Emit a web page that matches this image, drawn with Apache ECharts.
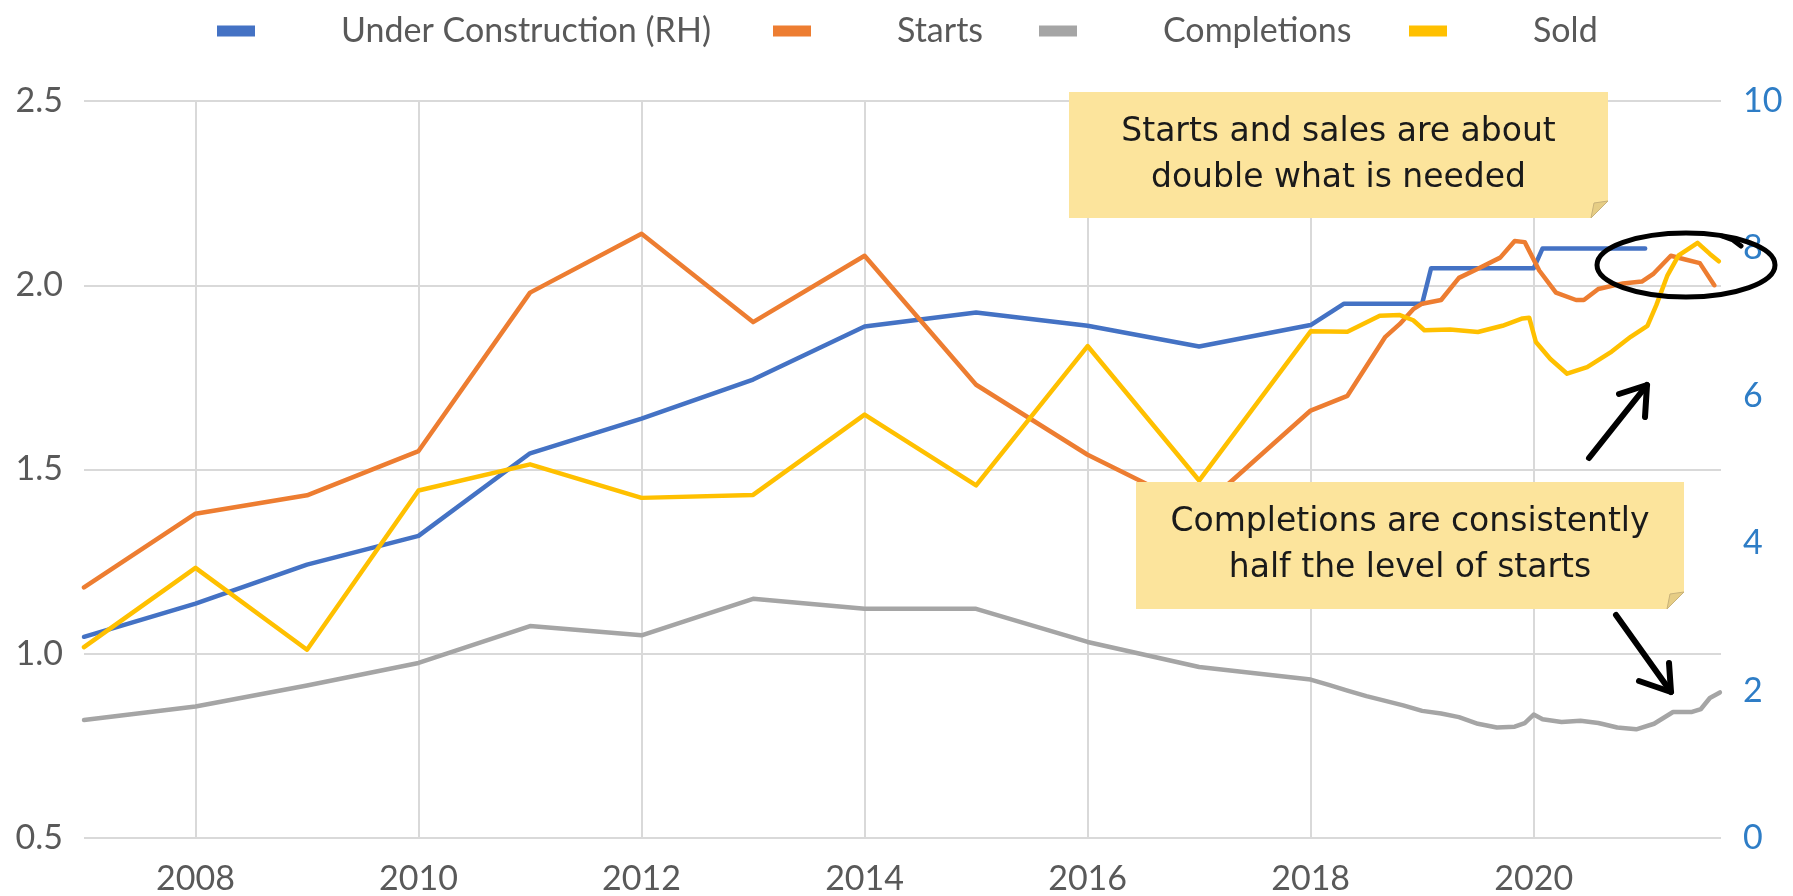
<!DOCTYPE html>
<html>
<head>
<meta charset="utf-8">
<script src="https://cdn.jsdelivr.net/npm/echarts@6/dist/echarts.min.js"></script>
<style>
  html, body { margin: 0; padding: 0; background: #ffffff; }
  #chart { width: 1793px; height: 896px; }
</style>
</head>
<body>
<div id="chart"></div>
<script>
// ---- data (x = decimal year) ----
const yearTicks = [2008, 2010, 2012, 2014, 2016, 2018, 2020];

// millions, right-hand axis
const underConstruction = [
  [2007, 2.73], [2008, 3.18], [2009, 3.71], [2010, 4.10], [2011, 5.22],
  [2012, 5.69], [2013, 6.22], [2014, 6.94], [2015, 7.13], [2016, 6.95],
  [2017, 6.67], [2018, 6.96], [2018.3, 7.25], [2019.0, 7.25], [2019.08, 7.73],
  [2020.0, 7.73], [2020.08, 8.0], [2021.0, 8.0]
];

const starts = [
  [2007, 1.18], [2008, 1.38], [2009, 1.43], [2010, 1.55], [2011, 1.98],
  [2012, 2.14], [2013, 1.90], [2014, 2.08], [2015, 1.73], [2016, 1.54],
  [2017, 1.39], [2018, 1.66], [2018.33, 1.70], [2018.5, 1.78], [2018.67, 1.86],
  [2018.8, 1.895], [2018.92, 1.935], [2019.0, 1.95], [2019.17, 1.96], [2019.33, 2.02],
  [2019.5, 2.045], [2019.7, 2.075], [2019.83, 2.12], [2019.92, 2.117], [2020.05, 2.04],
  [2020.2, 1.98], [2020.38, 1.96], [2020.45, 1.96], [2020.58, 1.99], [2020.8, 2.005],
  [2020.97, 2.01], [2021.07, 2.03], [2021.23, 2.08], [2021.36, 2.07], [2021.49, 2.06],
  [2021.62, 2.0]
];

const completions = [
  [2007, 0.82], [2008, 0.857], [2009, 0.914], [2010, 0.975], [2011, 1.075],
  [2012, 1.05], [2013, 1.149], [2014, 1.122], [2015, 1.122], [2016, 1.032],
  [2017, 0.964], [2018, 0.93], [2018.17, 0.915], [2018.33, 0.90], [2018.5, 0.885],
  [2018.67, 0.872], [2018.83, 0.86], [2019.0, 0.845], [2019.17, 0.838], [2019.33, 0.828],
  [2019.5, 0.81], [2019.67, 0.80], [2019.83, 0.802], [2019.92, 0.812], [2020.0, 0.835],
  [2020.08, 0.822], [2020.25, 0.815], [2020.42, 0.818], [2020.58, 0.812], [2020.75, 0.80],
  [2020.92, 0.795], [2021.08, 0.81], [2021.25, 0.842], [2021.42, 0.842], [2021.5, 0.85],
  [2021.58, 0.88], [2021.67, 0.895]
];

const sold = [
  [2007, 1.018], [2008, 1.233], [2009, 1.011], [2010, 1.443], [2011, 1.514],
  [2012, 1.423], [2013, 1.431], [2014, 1.649], [2015, 1.457], [2016, 1.835],
  [2017, 1.47], [2018, 1.875], [2018.33, 1.874], [2018.62, 1.917], [2018.8, 1.919],
  [2018.92, 1.905], [2019.02, 1.878], [2019.25, 1.88], [2019.5, 1.873], [2019.72, 1.89],
  [2019.9, 1.91], [2019.96, 1.912], [2020.02, 1.846], [2020.15, 1.80], [2020.3, 1.76],
  [2020.48, 1.778], [2020.7, 1.82], [2020.87, 1.86], [2021.02, 1.89], [2021.1, 1.946],
  [2021.2, 2.027], [2021.3, 2.081], [2021.47, 2.115], [2021.58, 2.085], [2021.66, 2.065]
];

const seriesNames = ['Under Construction (RH)', 'Starts', 'Completions', 'Sold'];
const noteTexts = [
  'Starts and sales are about\ndouble what is needed',
  'Completions are consistently\nhalf the level of starts'
];

// ---- styling / layout ----
const colors = ['#4472C4', '#ED7D31', '#A5A5A5', '#FFC000'];
const legendLeft = [212, 768, 1034, 1404];
const noteBoxes = [[1069, 92, 1608, 218], [1136, 482, 1684, 609]];
const labelFont = 'Lato, "Open Sans", sans-serif';
const noteFont = '"DejaVu Sans", sans-serif';

const chart = echarts.init(document.getElementById('chart'), null, { renderer: 'canvas' });

function lineSeries(name, data, color, yAxisIndex) {
  return {
    name: name,
    type: 'line',
    data: data,
    yAxisIndex: yAxisIndex,
    symbol: 'none',
    smooth: false,
    itemStyle: { color: color },
    lineStyle: { color: color, width: 4.5, cap: 'round', join: 'round' },
    emphasis: { disabled: true },
    z: 3
  };
}

function noteGraphics(box, text) {
  const [x0, y0, x1, y1] = box;
  const f = 17;
  return [
    {
      type: 'polygon', z: 100,
      shape: { points: [[x0, y0], [x1, y0], [x1, y1 - f], [x1 - f, y1], [x0, y1]] },
      style: { fill: '#FCE49C' }
    },
    {
      type: 'polygon', z: 101,
      shape: { points: [[x1, y1 - f], [x1 - f, y1], [x1 - f + 3, y1 - f + 2]] },
      style: { fill: '#E6CD85', stroke: '#C8B27A', lineWidth: 1 }
    },
    {
      type: 'text', z: 102,
      x: (x0 + x1) / 2, y: (y0 + y1) / 2,
      style: {
        text: text, fill: '#1a1a1a', font: '33px ' + noteFont,
        align: 'center', verticalAlign: 'middle', lineHeight: 46
      }
    }
  ];
}

const penStyle = { stroke: '#000000', lineWidth: 6, lineCap: 'round', lineJoin: 'round', fill: null };

const option = {
  animation: false,
  backgroundColor: '#ffffff',
  legend: seriesNames.map((name, i) => ({
    data: [name],
    left: legendLeft[i],
    top: 9,
    icon: 'rect',
    itemWidth: 38,
    itemHeight: 11,
    selectedMode: false,
    textStyle: {
      fontFamily: labelFont, fontSize: 34, color: '#595959',
      lineHeight: 34, padding: [0, 0, 0, 81]
    }
  })),
  grid: { left: 84, right: 72, top: 101, bottom: 56, containLabel: false },
  xAxis: {
    type: 'value',
    min: 2007,
    max: 2021.68,
    axisLine: { show: false },
    axisTick: { show: false, customValues: yearTicks },
    axisLabel: {
      customValues: yearTicks,
      formatter: v => String(v),
      fontFamily: labelFont, fontSize: 34, color: '#595959', margin: 24
    },
    splitLine: { show: true, lineStyle: { color: '#D9D9D9', width: 2 } }
  },
  yAxis: [
    {
      type: 'value',
      position: 'left',
      min: 0.5, max: 2.5, interval: 0.5,
      axisLine: { show: false },
      axisTick: { show: false },
      axisLabel: {
        formatter: v => v.toFixed(1),
        fontFamily: labelFont, fontSize: 34, color: '#595959', margin: 21
      },
      splitLine: { show: true, lineStyle: { color: '#D9D9D9', width: 2 } }
    },
    {
      type: 'value',
      position: 'right',
      min: 0, max: 10, interval: 2,
      axisLine: { show: false },
      axisTick: { show: false },
      axisLabel: {
        fontFamily: labelFont, fontSize: 34, color: '#2E7DC6', margin: 22, align: 'left'
      },
      splitLine: { show: false }
    }
  ],
  series: [
    lineSeries(seriesNames[0], underConstruction, colors[0], 1),
    lineSeries(seriesNames[1], starts, colors[1], 0),
    lineSeries(seriesNames[2], completions, colors[2], 0),
    lineSeries(seriesNames[3], sold, colors[3], 0)
  ],
  graphic: [
    ...noteGraphics(noteBoxes[0], noteTexts[0]),
    ...noteGraphics(noteBoxes[1], noteTexts[1]),
    // circled cluster at the latest readings
    {
      type: 'ellipse', z: 110,
      shape: { cx: 1686, cy: 265, rx: 89, ry: 32 },
      style: { stroke: '#000000', lineWidth: 5, fill: null }
    },
    {
      type: 'polyline', z: 110,
      shape: { points: [[1722, 236], [1733, 240], [1741, 246]] },
      style: Object.assign({}, penStyle, { lineWidth: 5 })
    },
    // arrow up towards sales
    { type: 'polyline', z: 110, shape: { points: [[1589, 458], [1647, 385]] }, style: penStyle },
    { type: 'polyline', z: 110, shape: { points: [[1619, 394], [1647, 385], [1645, 417]] }, style: penStyle },
    // arrow down towards completions
    { type: 'polyline', z: 110, shape: { points: [[1616, 615], [1671, 692]] }, style: penStyle },
    { type: 'polyline', z: 110, shape: { points: [[1639, 681], [1671, 692], [1669, 663]] }, style: penStyle }
  ]
};

chart.setOption(option);
</script>
</body>
</html>
